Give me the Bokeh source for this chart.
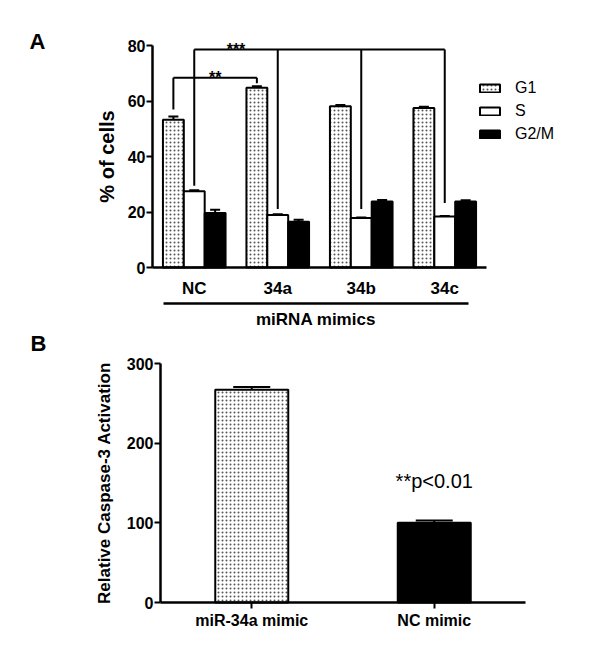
from bokeh.plotting import figure
from bokeh.models import (ColumnDataSource, Range1d, FixedTicker, Whisker, TeeHead,
                          LinearAxis, Label, Legend, LegendItem)
from bokeh.transform import dodge
from bokeh.layouts import column
from bokeh.core.properties import value
from bokeh.embed import file_html
from bokeh.resources import INLINE

FONT = "Liberation Sans"

# ---------------- Panel A data ----------------
groups = ["NC", "34a", "34b", "34c"]
phases = ["G1", "S", "G2/M"]
g1 = [53.2, 64.8, 58.1, 57.5]
s_phase = [27.5, 18.9, 17.8, 18.4]
g2m = [19.6, 16.5, 23.8, 23.8]
g1_err = [1.2, 0.5, 0.5, 0.4]
s_err = [0.3, 0.3, 0.2, 0.2]
g2m_err = [1.2, 0.7, 0.5, 0.4]
y_ticks_a = [0, 20, 40, 60, 80]
x_title_a = "miRNA mimics"
y_title_a = "% of cells"

# significance brackets (group names, phase, top of bracket, bottom of each leg)
br2_groups = ["NC", "34a"]
br2_phase = "G1"
br2_top = 68.4
br2_feet = [56.9, 66.4]
br2_label = "**"
br3_groups = ["NC", "34a", "34b", "34c"]
br3_phase = "S"
br3_top = 78.6
br3_feet = [29.5, 21.1, 21.1, 23.2]
br3_label = "***"

# ---------------- Panel B data ----------------
mimics = ["miR-34a mimic", "NC mimic"]
caspase = [267, 100]
caspase_err = [3.5, 3]
y_ticks_b = [0, 100, 200, 300]
y_title_b = "Relative Caspase-3 Activation"
p_note = "**p<0.01"
p_note_y = 153

# ---------------- layout / styling ----------------
W = 590
# panel A: figure 330 px tall; y-axis at x=152, baseline at y=267, 83.5 px per group,
# 2.775 px per %
HA, AXA_X, AXA_Y, PXA, PYA = 330, 152, 267, 83.5, 2.775
# panel B: figure 312 px tall; y-axis at x=160, baseline at y=272, 182.5 px per group
HB, AXB_X, AXB_Y, PXB, PYB = 312, 160, 272, 182.5, 239 / 300

BW = 0.25
offsets = {"G1": -BW, "S": 0.0, "G2/M": BW}
phase_style = {
    "G1": dict(fill_color="white", hatch_pattern="dot", hatch_scale=4, hatch_color="#555555",
               hatch_weight=1),
    "S": dict(fill_color="white"),
    "G2/M": dict(fill_color="black"),
}


def style_axis(ax, tick_size, label_size):
    ax.fixed_location = 0
    ax.axis_line_width = 2.5
    ax.axis_line_color = "black"
    ax.major_tick_line_width = 2
    ax.major_tick_line_color = "black"
    ax.minor_tick_line_color = None
    ax.major_tick_in = 0
    ax.major_tick_out = 6
    ax.major_label_text_font = FONT
    ax.major_label_text_font_style = "bold"
    ax.major_label_text_font_size = tick_size
    ax.major_label_text_color = "black"
    ax.axis_label_text_font = FONT
    ax.axis_label_text_font_style = "bold"
    ax.axis_label_text_font_size = label_size
    ax.axis_label_text_color = "black"


def make_fig(h, ax_x, ax_y, px, py):
    p = figure(x_range=Range1d(-ax_x / px, (W - ax_x) / px),
               y_range=Range1d((ax_y - h) / py, ax_y / py),
               width=W, height=h, min_border=0, min_border_left=0, min_border_right=0,
               min_border_top=0, min_border_bottom=0, output_backend="svg",
               toolbar_location=None)
    p.outline_line_color = None
    p.xgrid.visible = False
    p.ygrid.visible = False
    return p


def panel_letter(p, text, x, y_from_top, h):
    p.add_layout(Label(x=x, y=h - y_from_top, x_units="screen", y_units="screen", text=text,
                       text_font=FONT, text_font_style="bold", text_font_size="22px",
                       text_baseline="middle", text_align="left", text_color="black"))


# ================= Panel A =================
pa = make_fig(HA, AXA_X, AXA_Y, PXA, PYA)
xc = [i + 0.5 for i in range(len(groups))]

cols = {"G1": g1, "S": s_phase, "G2/M": g2m}
errs = {"G1": g1_err, "S": s_err, "G2/M": g2m_err}
data = {"xc": xc}
for i, ph in enumerate(phases):
    data[f"v{i}"] = cols[ph]
    data[f"hi{i}"] = [v + e for v, e in zip(cols[ph], errs[ph])]
src = ColumnDataSource(data)

items = []
for i, ph in enumerate(phases):
    r = pa.vbar(x=dodge("xc", offsets[ph]), top=f"v{i}", width=BW, source=src,
                line_color="black", line_width=2, **phase_style[ph])
    items.append(LegendItem(label=ph, renderers=[r]))
    pa.add_layout(Whisker(source=src, base=dodge("xc", offsets[ph]), lower=f"v{i}",
                          upper=f"hi{i}", line_width=2, line_color="black", lower_head=None,
                          upper_head=TeeHead(size=10, line_width=2, line_color="black")))

# brackets
for grps, ph, top, feet, lab in [(br2_groups, br2_phase, br2_top, br2_feet, br2_label),
                                 (br3_groups, br3_phase, br3_top, br3_feet, br3_label)]:
    xs = [xc[groups.index(g)] + offsets[ph] for g in grps]
    pa.segment(x0=xs, y0=feet, x1=xs, y1=[top] * len(xs), line_width=2, line_color="black")
    pa.segment(x0=[xs[0]], y0=[top], x1=[xs[-1]], y1=[top], line_width=2, line_color="black")
    pa.text(x=[(xs[0] + xs[1]) / 2], y=[top], text=[lab], text_align="center",
            text_baseline="alphabetic", text_font=value(FONT), text_font_style="bold",
            text_font_size="16px", text_color="black")

xa = pa.xaxis[0]
style_axis(xa, "17px", "17px")
xa.ticker = FixedTicker(ticks=xc)
xa.major_label_overrides = {x: g for x, g in zip(xc, groups)}
xa.bounds = (0, len(groups))
xa.major_tick_out = 0
xa.major_tick_line_color = None
xa.major_label_standoff = 11

ya = pa.yaxis[0]
style_axis(ya, "16px", "20px")
ya.ticker = FixedTicker(ticks=y_ticks_a)
ya.bounds = (y_ticks_a[0], y_ticks_a[-1])
ya.axis_label = y_title_a
ya.major_label_standoff = 1
ya.axis_label_standoff = 7

ax2 = LinearAxis(ticker=FixedTicker(ticks=[]), bounds=(0.13, len(groups) - 0.22),
                 axis_label=x_title_a)
style_axis(ax2, "16px", "17px")
ax2.fixed_location = -12.9
ax2.major_tick_out = 0
ax2.major_label_standoff = 0
ax2.axis_label_standoff = 6
pa.add_layout(ax2, "below")

leg = Legend(items=items, location=(477, 186), glyph_width=25, glyph_height=10,
             label_standoff=13, label_height=20, spacing=3, padding=0, margin=0,
             border_line_color=None, background_fill_alpha=0, label_text_font=FONT,
             label_text_font_size="16px", label_text_color="black")
pa.add_layout(leg)

panel_letter(pa, "A", 29, 40.5, HA)

# ================= Panel B =================
pb = make_fig(HB, AXB_X, AXB_Y, PXB, PYB)
xb = [i + 0.5 for i in range(len(mimics))]
srcb = ColumnDataSource(dict(x=xb, v=caspase,
                             hi=[v + e for v, e in zip(caspase, caspase_err)],
                             fill=["white", "black"], hatch=["dot", "blank"]))
pb.vbar(x="x", top="v", width=0.4, source=srcb, fill_color="fill", hatch_pattern="hatch",
        hatch_scale=4, hatch_color="#555555", hatch_weight=1, line_color="black",
        line_width=2)
pb.add_layout(Whisker(source=srcb, base="x", lower="v", upper="hi", line_width=2,
                      line_color="black", lower_head=None,
                      upper_head=TeeHead(size=37, line_width=2, line_color="black")))
pb.text(x=[xb[1]], y=[p_note_y], text=[p_note], text_align="center",
        text_baseline="middle", text_font=value(FONT), text_font_size="20px",
        text_color="black")

xbx = pb.xaxis[0]
style_axis(xbx, "16px", "16px")
xbx.ticker = FixedTicker(ticks=xb)
xbx.major_label_overrides = {x: m for x, m in zip(xb, mimics)}
xbx.bounds = (0, len(mimics))
xbx.major_label_standoff = 3

yb = pb.yaxis[0]
style_axis(yb, "16px", "17px")
yb.ticker = FixedTicker(ticks=y_ticks_b)
yb.bounds = (y_ticks_b[0], y_ticks_b[-1])
yb.axis_label = y_title_b
yb.major_label_standoff = 1
yb.axis_label_standoff = 10

panel_letter(pb, "B", 30, 12.5, HB)

layout = column(pa, pb)
open("out.html", "w").write(file_html(layout, INLINE))
